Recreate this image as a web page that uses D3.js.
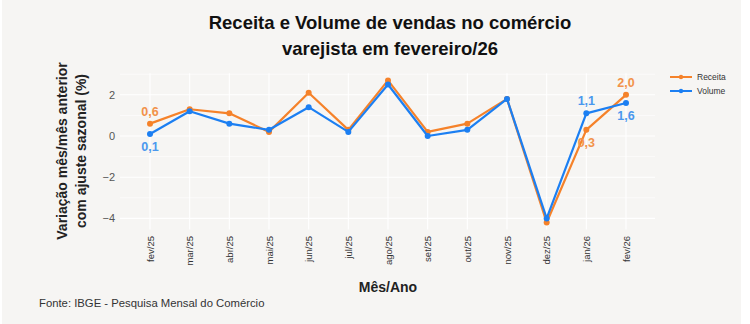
<!DOCTYPE html>
<html><head><meta charset="utf-8">
<script src="https://cdn.jsdelivr.net/npm/d3@7"></script>
<style>
html,body{margin:0;padding:0;background:#fff;}
svg{display:block;}
</style></head>
<body>
<svg id="chart" width="750" height="324"></svg>
<script>
const months = ["fev/25","mar/25","abr/25","mai/25","jun/25","jul/25","ago/25","set/25","out/25","nov/25","dez/25","jan/26","fev/26"];
const receita = [0.6,1.3,1.1,0.2,2.1,0.3,2.7,0.2,0.6,1.8,-4.2,0.3,2.0];
const volume  = [0.1,1.2,0.6,0.3,1.4,0.2,2.5,0.0,0.3,1.8,-4.0,1.1,1.6];
const yTicks = [-4,-2,0,2];
const seriesNames = ["Receita","Volume"];
const colors = {Receita:"#f5822a", Volume:"#1c7ff2"};
const labelColors = {Receita:"#f2924a", Volume:"#4a98ee"};
// labelled points: [series, index, position]
const labelled = [["Receita",0,"up"],["Volume",0,"down"],["Receita",11,"down"],["Volume",11,"up"],["Receita",12,"up"],["Volume",12,"down"]];

const svg = d3.select("#chart");
svg.append("rect").attr("x",2).attr("y",0).attr("width",739).attr("height",324).attr("fill","#f6f5f3");

const x = d3.scalePoint().domain(months).range([150,626]);
const y = d3.scaleLinear().domain([-4.545,3.045]).range([229.6,73.3]);
const left = 120, right = 655;

// grid
const g = svg.append("g");
d3.range(-3,4,2).forEach(v=>{
  g.append("line").attr("x1",left).attr("x2",right).attr("y1",y(v)).attr("y2",y(v))
   .attr("stroke","#ffffff").attr("stroke-width",0.6);
});
yTicks.forEach(v=>{
  g.append("line").attr("x1",left).attr("x2",right).attr("y1",y(v)).attr("y2",y(v))
   .attr("stroke","#ffffff").attr("stroke-width",1.1);
});
months.forEach(m=>{
  g.append("line").attr("x1",x(m)).attr("x2",x(m)).attr("y1",y(3.045)).attr("y2",y(-4.545))
   .attr("stroke","#ffffff").attr("stroke-width",1.1);
});

// axes
const yAxis = d3.axisLeft(y).tickValues(yTicks).tickSize(0).tickPadding(5)
  .tickFormat(d=> d<0 ? "\u2212" + Math.abs(d) : d);
const ya = svg.append("g").attr("transform",`translate(${left},0)`).call(yAxis);
ya.select(".domain").remove();
ya.selectAll("text").attr("fill","#555").style("font-family","Liberation Sans, Arial, sans-serif").style("font-size","11px");

const xAxis = d3.axisBottom(x).tickSize(0).tickPadding(0);
const xa = svg.append("g").attr("transform",`translate(0,232)`).call(xAxis);
xa.select(".domain").remove();
xa.selectAll("text").attr("fill","#333").style("font-family","Liberation Sans, Arial, sans-serif").style("font-size","9.5px")
  .attr("transform","rotate(-90)").attr("text-anchor","end").attr("dx","-4").attr("dy","0.35em").attr("y",0).attr("x",0);

// lines
const data = {Receita:receita, Volume:volume};
const line = d3.line().x((d,i)=>x(months[i])).y(d=>y(d));
seriesNames.forEach(s=>{
  svg.append("path").datum(data[s]).attr("d",line).attr("fill","none")
    .attr("stroke",colors[s]).attr("stroke-width",2.2).attr("stroke-linejoin","round");
  svg.append("g").selectAll("circle").data(data[s]).join("circle")
    .attr("cx",(d,i)=>x(months[i])).attr("cy",d=>y(d)).attr("r",3).attr("fill",colors[s]);
});

// labels
const fmt = v => v.toFixed(1).replace(".",",");
labelled.forEach(([s,i,pos])=>{
  const v = data[s][i];
  svg.append("text").attr("x",x(months[i])).attr("y",y(v) + (pos==="up"? -8 : 17))
    .attr("text-anchor","middle").attr("fill",labelColors[s])
    .style("font-family","Liberation Sans, Arial, sans-serif").style("font-size","12.5px").style("font-weight","bold")
    .text(fmt(v));
});

// titles
const title = svg.append("text").attr("text-anchor","middle")
  .style("font-family","Liberation Sans, Arial, sans-serif").style("font-size","18.5px").style("font-weight","bold").attr("fill","#111");
title.append("tspan").attr("x",390).attr("y",29).text("Receita e Volume de vendas no comércio");
title.append("tspan").attr("x",390).attr("y",55).text("varejista em fevereiro/26");

const yt = svg.append("text").attr("transform","translate(0,0) rotate(-90)").attr("text-anchor","middle")
  .style("font-family","Liberation Sans, Arial, sans-serif").style("font-size","14px").style("font-weight","bold").attr("fill","#222");
yt.append("tspan").attr("x",-151).attr("y",67).text("Variação mês/mês anterior");
yt.append("tspan").attr("x",-151).attr("y",86).text("com ajuste sazonal (%)");

svg.append("text").attr("x",388).attr("y",292).attr("text-anchor","middle")
  .style("font-family","Liberation Sans, Arial, sans-serif").style("font-size","14px").style("font-weight","bold").attr("fill","#222").text("Mês/Ano");

svg.append("text").attr("x",39).attr("y",307)
  .style("font-family","Liberation Sans, Arial, sans-serif").style("font-size","11.3px").attr("fill","#333").text("Fonte: IBGE - Pesquisa Mensal do Comércio");

// legend
seriesNames.forEach((s,k)=>{
  const ly = 77 + k*14;
  svg.append("line").attr("x1",670).attr("x2",692).attr("y1",ly).attr("y2",ly).attr("stroke",colors[s]).attr("stroke-width",2);
  svg.append("circle").attr("cx",681).attr("cy",ly).attr("r",2.2).attr("fill",colors[s]);
  svg.append("text").attr("x",697).attr("y",ly+3).style("font-family","Liberation Sans, Arial, sans-serif").style("font-size","8.5px").attr("fill","#333").text(s);
});
</script>
</body></html>
